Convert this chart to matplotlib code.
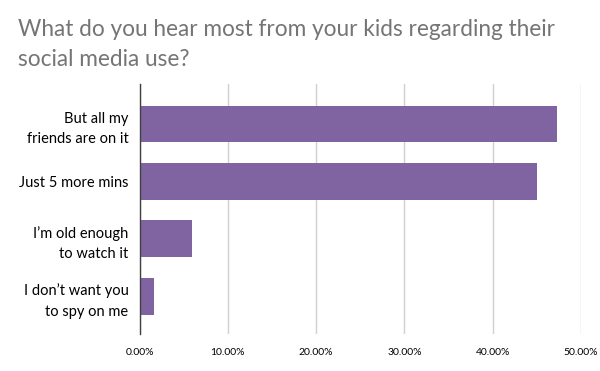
import matplotlib
matplotlib.use("Agg")
import matplotlib.pyplot as plt
from matplotlib.ticker import FuncFormatter

categories = ["But all my\nfriends are on it", "Just 5 more mins",
              "I\u2019m old enough\nto watch it", "I don\u2019t want you\nto spy on me"]
values = [47.25, 45.0, 6.0, 1.6]
xticks = [0, 10, 20, 30, 40, 50]
title = "What do you hear most from your kids regarding their\nsocial media use?"

plt.rcParams['font.family'] = ['Lato', 'DejaVu Sans']

fig = plt.figure(figsize=(6.0, 3.71), dpi=100)
W, H = 600, 371
ax = fig.add_axes([139.5 / W, 1 - 334 / H, (581 - 139.5) / W, (334 - 84) / H])

ypos = list(range(len(categories)))
ax.barh(ypos, values, height=0.64, color="#8064A2", zorder=3)
ax.set_xlim(0, 50)
ax.set_ylim(3.66, -0.70)
ax.set_xticks(xticks)
ax.xaxis.set_major_formatter(FuncFormatter(lambda v, p: f"{v:.2f}%"))
ax.set_yticks(ypos)
ax.set_yticklabels(categories, fontsize=10.5, color="#000000", linespacing=1.6)
ax.tick_params(axis="y", length=0, pad=8)
ax.tick_params(axis="x", length=0, pad=10, labelsize=7.5, labelcolor="#000000")
ax.grid(axis="x", color="#D0D0D0", linewidth=1, zorder=0)
for s in ["top", "right", "bottom"]:
    ax.spines[s].set_visible(False)
ax.spines["left"].set_color("#404040")
ax.spines["left"].set_linewidth(1)
ax.spines["left"].set_zorder(4)

fig.text(18 / W, 1 - 19 / H, title, fontsize=16.3, color="#757575", ha="left", va="top",
         linespacing=1.5)

fig.savefig("out.png", dpi=100)
